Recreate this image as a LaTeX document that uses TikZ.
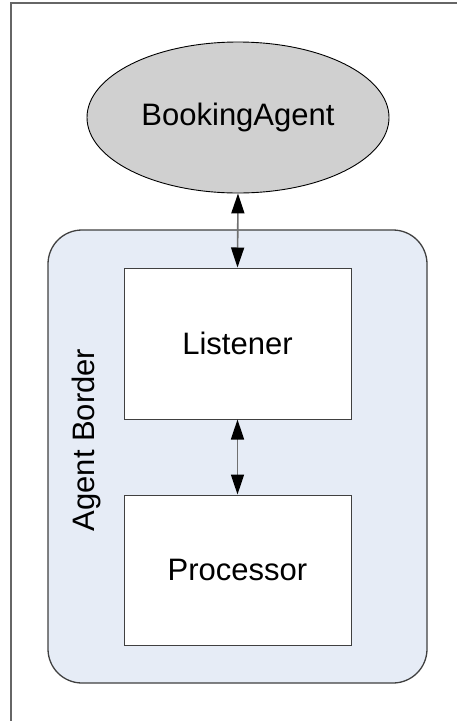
\documentclass[tikz,border=0pt]{standalone}
\usepackage{fontspec}
\setmainfont{Liberation Sans}
\usetikzlibrary{shapes.geometric,arrows.meta}
\definecolor{agentgray}{RGB}{208,208,208}
\definecolor{borderfill}{RGB}{230,236,246}
\definecolor{edgegray}{RGB}{64,64,64}
\definecolor{linkgray}{RGB}{112,112,112}
\tikzset{
  lbl/.style={font=\fontsize{31}{36}\selectfont},
  agent/.style={ellipse, draw=black, line width=0.9pt, fill=agentgray, inner sep=0pt,
                minimum width=302pt, minimum height=151pt, lbl},
  border/.style={draw=edgegray, line width=1.3pt, fill=borderfill, rounded corners=34pt},
  part/.style={rectangle, draw=edgegray, line width=1pt, fill=white, inner sep=0pt,
               minimum width=227pt, lbl},
  link/.style={draw=linkgray, line width=1.6pt,
               {Triangle[length=20pt,width=13pt,black]}-{Triangle[length=20pt,width=13pt,black]}},
  frame/.style={draw=edgegray!80, line width=1.2pt}
}
\begin{document}
\begin{tikzpicture}[x=1pt,y=-1pt]
  \useasboundingbox (0,0) rectangle (457,721);
  % page frame: top and left rules only
  \draw[frame] (457,3) -- (11,3) -- (11,721);
  % agent border container
  \draw[border] (48,230) rectangle (427,683);
  \node[rotate=90, lbl] (borderlabel) at (86,440) {Agent Border};
  % nodes
  \node[agent] (booking) at (238,117.5) {BookingAgent};
  \node[part, minimum height=151pt] (listener) at (237.5,343.5) {Listener};
  \node[part, minimum height=150pt] (processor) at (237.5,570) {Processor};
  % connectors
  \draw[link] (booking.south) -- (listener.north);
  \draw[link] (listener.south) -- (processor.north);
\end{tikzpicture}
\end{document}
